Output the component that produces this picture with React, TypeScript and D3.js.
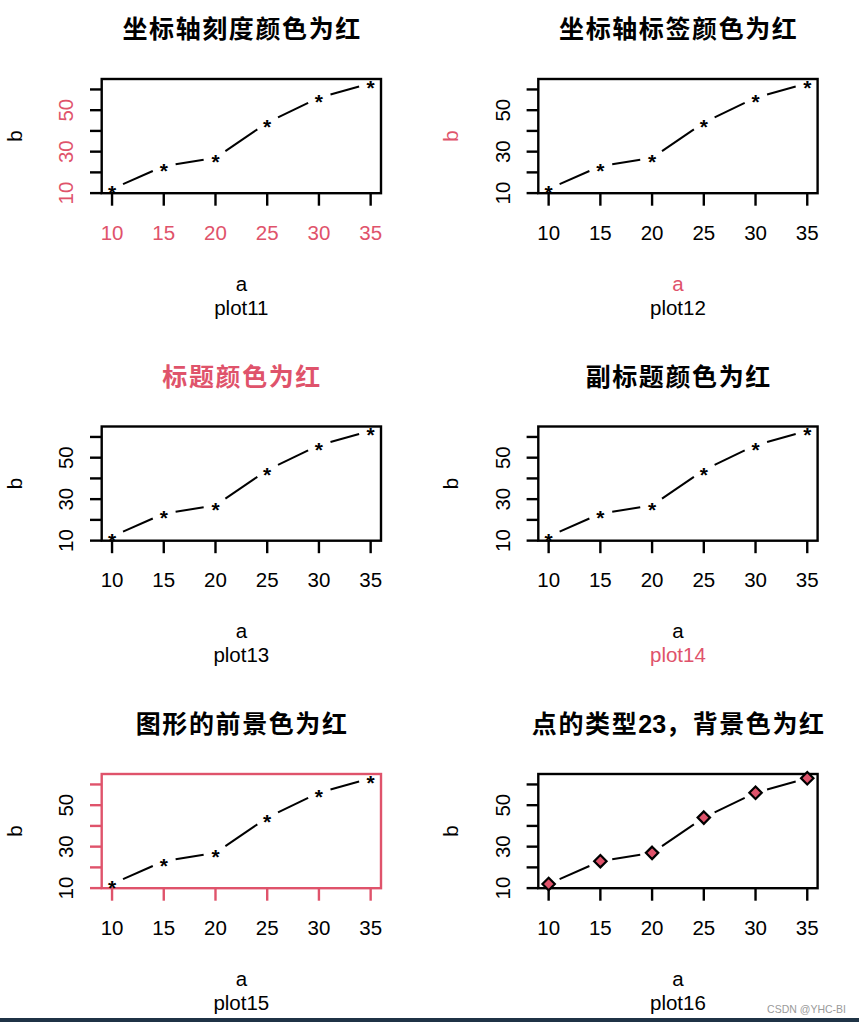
import React from 'react';
import * as d3 from 'd3';

const aValues = [10, 15, 20, 25, 30, 35];
const bValues = [12, 23, 27, 44, 56, 63];
const xTicks = [10, 15, 20, 25, 30, 35];
const yTicks = [10, 20, 30, 40, 50, 60];
const yTickLabels = ['10', '', '30', '', '50', ''];
const titles = ['坐标轴刻度颜色为红', '坐标轴标签颜色为红', '标题颜色为红', '副标题颜色为红', '图形的前景色为红', '点的类型23，背景色为红'];
const subs = ['plot11', 'plot12', 'plot13', 'plot14', 'plot15', 'plot16'];
const xLabel = 'a';
const yLabel = 'b';

const RED = '#DF536B';
const LATIN = "'Liberation Sans', Arial, sans-serif";
const CJK = "'Liberation Sans', 'Noto Sans CJK SC', sans-serif";

function Panel({ idx }: { idx: number }) {
  const col = idx % 2;
  const row = Math.floor(idx / 2);
  const L = 101.7 + col * 436.6;
  const R = L + 279.3;
  const T = 79 + row * 347.5;
  const B = T + 114.2;
  const xExt = (d3.max(aValues)! - d3.min(aValues)!) * 0.04;
  const yExt = (d3.max(bValues)! - d3.min(bValues)!) * 0.04;
  const x = d3.scaleLinear().domain([d3.min(aValues)! - xExt, d3.max(aValues)! + xExt]).range([L, R]);
  const y = d3.scaleLinear().domain([d3.min(bValues)! - yExt, d3.max(bValues)! + yExt]).range([B, T]);
  const pts = aValues.map((a, i) => [x(a), y(bValues[i])] as [number, number]);
  const gap = 12;
  const segs = pts.slice(0, -1).map((p, i) => {
    const q = pts[i + 1];
    const dx = q[0] - p[0];
    const dy = q[1] - p[1];
    const len = Math.hypot(dx, dy);
    const ux = dx / len, uy = dy / len;
    return [p[0] + ux * gap, p[1] + uy * gap, q[0] - ux * gap, q[1] - uy * gap];
  });
  const fg = idx === 4 ? RED : '#000';
  const tickCol = idx === 0 ? RED : '#000';
  const labCol = idx === 1 ? RED : '#000';
  const titleCol = idx === 2 ? RED : '#000';
  const subCol = idx === 3 ? RED : '#000';
  const cx = (L + R) / 2;
  const cy = (T + B) / 2;
  const title = titles[idx];
  const m = title.match(/^(.*?)(\d+)(.*)$/);
  const fs = 20.5;
  const d = 6.2;
  return (
    <g>
      <text x={cx + 0.8} y={T - 50} textAnchor="middle" dominantBaseline="central" fontFamily={CJK} fontSize={25} fontWeight="bold" fill={titleCol}>
        {m ? (<>
          <tspan letterSpacing={1.6}>{m[1]}</tspan>
          <tspan letterSpacing={0}>{m[2]}</tspan>
          <tspan letterSpacing={1.6}>{m[3]}</tspan>
        </>) : <tspan letterSpacing={1.6}>{title}</tspan>}
      </text>
      <rect x={L} y={T} width={R - L} height={B - T} fill="none" stroke={fg} strokeWidth={2.4} />
      {xTicks.map((t) => (
        <g key={'x' + t}>
          <line x1={x(t)} x2={x(t)} y1={B} y2={B + 12.5} stroke={fg} strokeWidth={2.4} />
          <text x={x(t)} y={B + 46.7} textAnchor="middle" fontFamily={LATIN} fontSize={fs} fill={tickCol}>{t}</text>
        </g>
      ))}
      {yTicks.map((t, i) => (
        <g key={'y' + t}>
          <line x1={L - 11.7} x2={L} y1={y(t)} y2={y(t)} stroke={fg} strokeWidth={2.4} />
          {yTickLabels[i] && (
            <text transform={`translate(${L - 28.4},${y(t)}) rotate(-90)`} textAnchor="middle" fontFamily={LATIN} fontSize={fs} fill={tickCol}>{yTickLabels[i]}</text>
          )}
        </g>
      ))}
      {segs.map((s, i) => (
        <line key={'s' + i} x1={s[0]} y1={s[1]} x2={s[2]} y2={s[3]} stroke="#000" strokeWidth={2} />
      ))}
      {pts.map((p, i) => idx === 5 ? (
        <path key={'p' + i} d={`M${p[0]},${p[1] - d}L${p[0] + d},${p[1]}L${p[0]},${p[1] + d}L${p[0] - d},${p[1]}Z`} fill={RED} stroke="#000" strokeWidth={2.2} />
      ) : (
        <text key={'p' + i} x={p[0]} y={p[1] + 11.5} textAnchor="middle" fontFamily={LATIN} fontSize={21} fontWeight="bold" fill="#000">*</text>
      ))}
      <text x={cx} y={B + 97.4} textAnchor="middle" fontFamily={LATIN} fontSize={fs} fill={labCol}>{xLabel}</text>
      <text transform={`translate(${L - 80},${cy}) rotate(-90)`} textAnchor="middle" fontFamily={LATIN} fontSize={fs} fill={labCol}>{yLabel}</text>
      <text x={cx} y={B + 121.7} textAnchor="middle" fontFamily={LATIN} fontSize={fs} fill={subCol}>{subs[idx]}</text>
    </g>
  );
}

export default function App() {
  return (
    <svg width={859} height={1022} style={{ position: 'absolute', left: 0, top: 0, background: '#fff' }}>
      <rect x={0} y={0} width={859} height={1022} fill="#fff" />
      {subs.map((_, i) => <Panel key={i} idx={i} />)}
      <text x={846} y={1013} textAnchor="end" fontFamily={LATIN} fontSize={10.5} fill="#9a9a9a">CSDN @YHC-BI</text>
      <rect x={0} y={1018} width={859} height={4} fill="#1f3346" />
    </svg>
  );
}
